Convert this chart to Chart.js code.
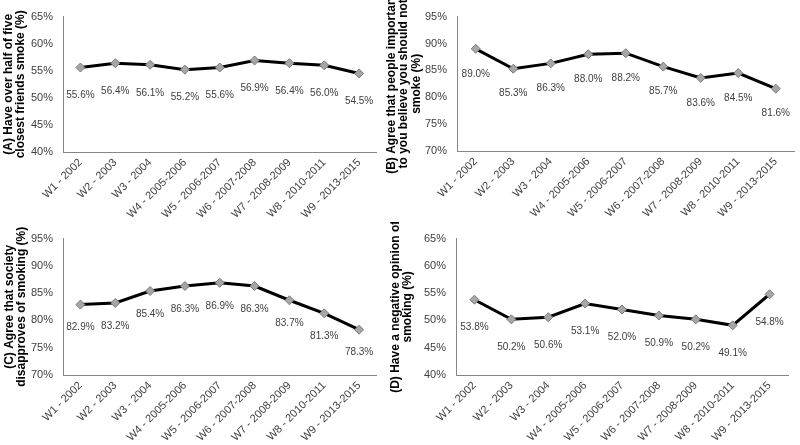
<!DOCTYPE html>
<html>
<head>
<meta charset="utf-8">
<script src="https://cdn.jsdelivr.net/npm/chart.js@4.4.1/dist/chart.umd.min.js"></script>
<style>
  html, body { margin: 0; padding: 0; background: #fff; }
  #wrap { position: relative; width: 800px; height: 445px; }
  canvas { position: absolute; }
</style>
</head>
<body>
<div id="wrap">
  <canvas id="chartA" width="382" height="222" style="left:0;top:0"></canvas>
  <canvas id="chartB" width="418" height="222" style="left:382px;top:0"></canvas>
  <canvas id="chartC" width="382" height="223" style="left:0;top:222px"></canvas>
  <canvas id="chartD" width="418" height="223" style="left:382px;top:222px"></canvas>
</div>
<script>
const waves = [
  "W1 - 2002", "W2 - 2003", "W3 - 2004", "W4 - 2005-2006", "W5 - 2006-2007",
  "W6 - 2007-2008", "W7 - 2008-2009", "W8 - 2010-2011", "W9 - 2013-2015"
];

const friendsSmoke = [55.6, 56.4, 56.1, 55.2, 55.6, 56.9, 56.4, 56.0, 54.5];
const importantPeople = [89.0, 85.3, 86.3, 88.0, 88.2, 85.7, 83.6, 84.5, 81.6];
const societyDisapproves = [82.9, 83.2, 85.4, 86.3, 86.9, 86.3, 83.7, 81.3, 78.3];
const negativeOpinion = [53.8, 50.2, 50.6, 53.1, 52.0, 50.9, 50.2, 49.1, 54.8];

const lowRangeTicks = [40, 45, 50, 55, 60, 65];
const highRangeTicks = [70, 75, 80, 85, 90, 95];

const FONT = "Arial, 'Liberation Sans', sans-serif";
const TEXT = "#404040";

// draws the value under every point
const valueLabels = {
  id: "valueLabels",
  afterDatasetsDraw(chart, args, opts) {
    const ctx = chart.ctx;
    const meta = chart.getDatasetMeta(0);
    const values = chart.data.datasets[0].data;
    ctx.save();
    ctx.font = "10px " + FONT;
    ctx.fillStyle = TEXT;
    ctx.textAlign = "center";
    ctx.textBaseline = "middle";
    meta.data.forEach((pt, i) => {
      ctx.fillText(values[i].toFixed(1) + "%", pt.x, pt.y + opts.offset);
    });
    ctx.restore();
  }
};

function makeChart(id, values, ticks, title, lay) {
  return new Chart(document.getElementById(id), {
    type: "line",
    data: {
      labels: waves,
      datasets: [{
        data: values,
        borderColor: "#000",
        borderWidth: 3,
        tension: 0,
        pointStyle: "rectRot",
        pointRadius: 4.5,
        pointBackgroundColor: "#a6a6a6",
        pointBorderColor: "#7a7a7a",
        pointBorderWidth: 1
      }]
    },
    options: {
      responsive: false,
      animation: false,
      devicePixelRatio: 1,
      layout: { padding: { left: 0, right: lay.right, top: lay.top, bottom: 0 } },
      plugins: {
        legend: { display: false },
        tooltip: { enabled: false },
        valueLabels: { offset: lay.labelOffset }
      },
      scales: {
        x: {
          offset: true,
          grid: { display: false, drawTicks: false, tickLength: 0 },
          border: { display: true, color: "#868686", width: 1 },
          ticks: {
            color: TEXT,
            font: { family: FONT, size: 11 },
            minRotation: 45,
            maxRotation: 45,
            autoSkip: false,
            padding: 4
          },
          afterFit(scale) { scale.height = lay.xHeight; }
        },
        y: {
          min: ticks[0],
          max: ticks[ticks.length - 1],
          grid: { display: false, drawTicks: false, tickLength: 0 },
          border: { display: true, color: "#868686", width: 1 },
          afterBuildTicks(scale) { scale.ticks = ticks.map(v => ({ value: v })); },
          ticks: {
            color: TEXT,
            font: { family: FONT, size: 11 },
            padding: 10,
            callback: v => v + "%"
          },
          title: {
            display: true,
            text: title,
            color: "#000",
            font: { family: FONT, size: 12, weight: "bold", lineHeight: 1.05 },
            padding: { top: lay.titlePad, bottom: 0 }
          },
          afterFit(scale) { scale.width = lay.yWidth; }
        }
      }
    },
    plugins: [valueLabels]
  });
}

makeChart("chartA", friendsSmoke, lowRangeTicks,
  ["(A) Have over half of five", "closest friends smoke (%)"],
  { right: 0, top: 12, xHeight: 70, yWidth: 63, titlePad: 2, labelOffset: 28 });

makeChart("chartB", importantPeople, highRangeTicks,
  ["(B) Agree that people important", "to you believe you should not", "smoke (%)"],
  { right: 0, top: 12, xHeight: 71, yWidth: 75, titlePad: 3, labelOffset: 25 });

makeChart("chartC", societyDisapproves, highRangeTicks,
  ["(C) Agree that society", "disapproves of smoking (%)"],
  { right: 0, top: 15, xHeight: 70, yWidth: 63, titlePad: 3, labelOffset: 23 });

makeChart("chartD", negativeOpinion, lowRangeTicks,
  ["(D) Have a negative opinion of", "smoking (%)"],
  { right: 12, top: 14, xHeight: 70, yWidth: 74, titlePad: 7, labelOffset: 28 });
</script>
</body>
</html>
